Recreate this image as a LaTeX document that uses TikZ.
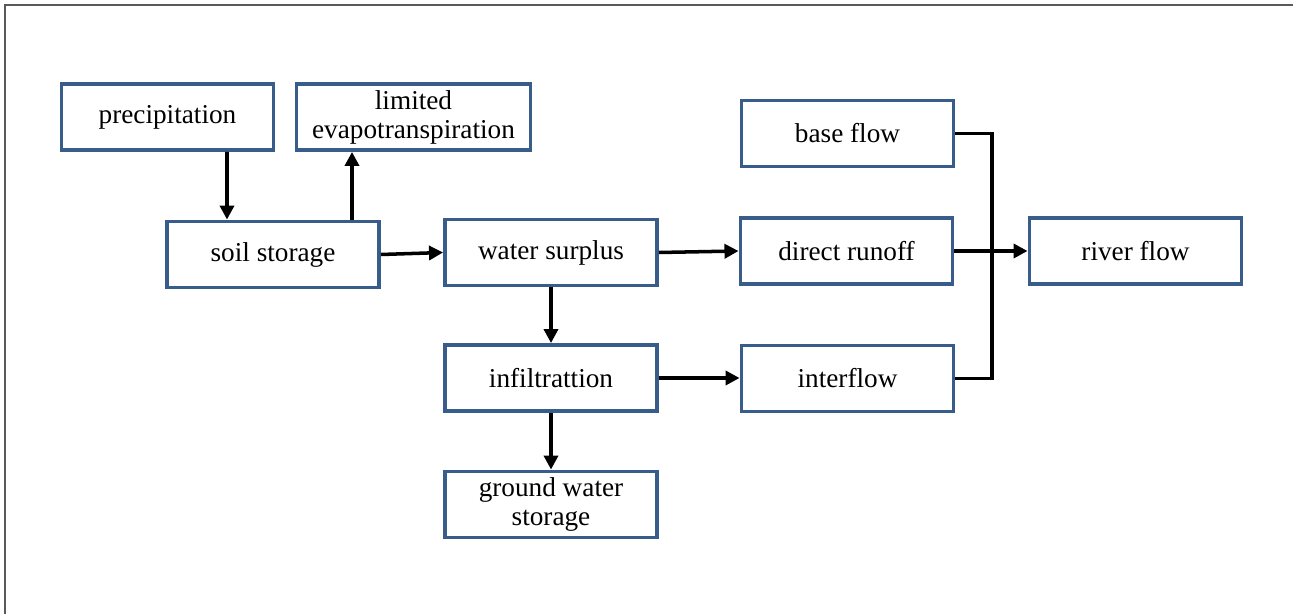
\documentclass[tikz,border=0pt]{standalone}
\usepackage{fontspec}
\setmainfont{Liberation Serif}
\usepackage{tikz}
\usetikzlibrary{arrows.meta,positioning,calc}
\definecolor{boxblue}{RGB}{56,93,138}

\begin{document}
\begin{tikzpicture}[
    box/.style={draw=boxblue, line width=2.2pt, minimum width=4.24cm, minimum height=1.32cm,
        align=center, font=\fontsize{15.5}{16.5}\selectfont, inner sep=2pt},
    flow/.style={-{Triangle[length=8pt,width=8pt]}, line width=2pt},
    busline/.style={line width=2pt}
]
    \useasboundingbox (0,0) rectangle (25.86,-12.28);
    % Cadre
    \draw[gray!70!black, line width=0.6pt] (0.1,-12.28) -- (0.1,-0.1) -- (25.86,-0.1);

    % Colonne gauche
    \node[box] (prec) at (3.35,-2.34) {precipitation};
    \node[box, minimum width=4.68cm] (evap) at (8.27,-2.34) {limited\\evapotranspiration};
    \node[box] (soil) at (5.46,-5.09) {soil storage};

    % Colonne milieu
    \node[box] (surplus) at (11.02,-5.05) {water surplus};
    \node[box] (infil) at (11.02,-7.56) {infiltrattion};
    \node[box] (ground) at (11.02,-10.09) {ground water\\storage};

    % Colonne droite
    \node[box] (base) at (16.95,-2.67) {base flow};
    \node[box] (runoff) at (16.93,-5.02) {direct runoff};
    \node[box] (inter) at (16.95,-7.57) {interflow};
    \node[box] (river) at (22.71,-5.02) {river flow};

    % Fleches
    \draw[flow] ([xshift=1.19cm]prec.south) -- ([xshift=-0.92cm]soil.north);
    \draw[flow] ([xshift=1.58cm]soil.north) -- ([xshift=1.58cm]soil.north |- evap.south);
    \draw[flow] (soil.east) -- (surplus.west);
    \draw[flow] (surplus.east) -- (runoff.west);
    \draw[flow] (surplus.south) -- (infil.north);
    \draw[flow] (infil.south) -- (ground.north);
    \draw[flow] (infil.east) -- (inter.west |- infil.east);

    % Collecteur vers river flow
    \coordinate (bus) at (19.84,0);
    \draw[busline] (base.east) -- (base.east -| bus) -- (inter.east -| bus) -- (inter.east);
    \draw[flow] (runoff.east) -- (river.west);
\end{tikzpicture}
\end{document}
